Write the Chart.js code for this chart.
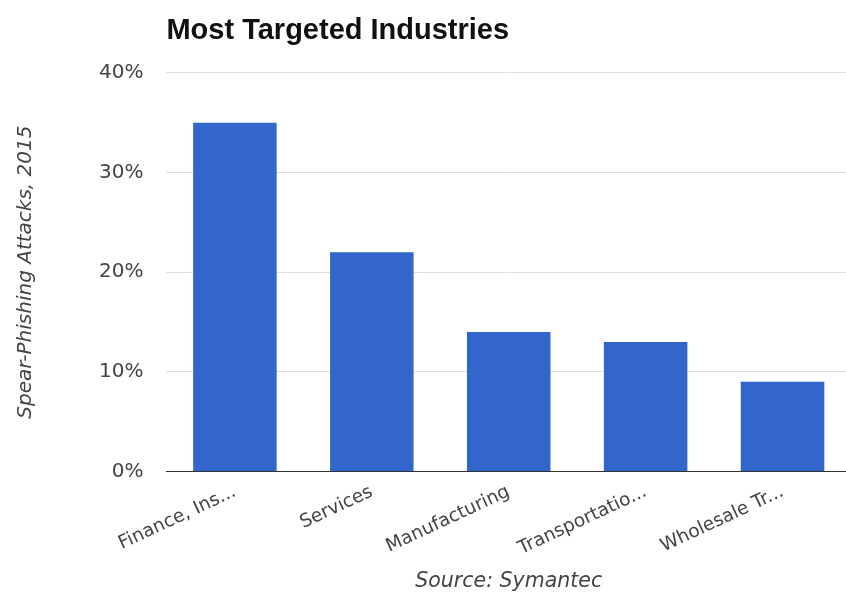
<!DOCTYPE html>
<html>
<head>
<meta charset="utf-8">
<script src="https://cdn.jsdelivr.net/npm/chart.js@4"></script>
<style>
  html, body { margin: 0; padding: 0; background: #fff; overflow: hidden; }
  #wrap { position: relative; width: 851px; height: 594px; }
</style>
</head>
<body>
<div id="wrap"><canvas id="c"></canvas></div>
<script>
const categories = ["Finance, Ins...", "Services", "Manufacturing", "Transportatio...", "Wholesale Tr..."];
const values = [35, 22, 14, 13, 9];
const yTicks = [0, 10, 20, 30, 40];
const titleText = "Most Targeted Industries";
const yTitle = "Spear-Phishing Attacks, 2015";
const xTitle = "Source: Symantec";

const TFONT = "'Liberation Sans', Arial, sans-serif";
const FONT = "'DejaVu Sans', sans-serif";

new Chart(document.getElementById('c'), {
  type: 'bar',
  data: {
    labels: categories,
    datasets: [{
      data: values,
      backgroundColor: '#3366CC',
      borderWidth: 0,
      barPercentage: 0.61,
      categoryPercentage: 1.0
    }]
  },
  options: {
    responsive: true,
    maintainAspectRatio: false,
    animation: false,
    layout: { padding: { left: 14, right: 0, top: 4, bottom: 0 } },
    plugins: {
      legend: { display: false },
      tooltip: { enabled: false },
      title: {
        display: true,
        text: titleText,
        align: 'start',
        fullSize: false,
        color: '#111',
        font: { family: TFONT, size: 29, weight: 'bold' },
        padding: { top: 10, bottom: 24 }
      }
    },
    scales: {
      x: {
        grid: { display: false, drawTicks: false },
        border: { display: true, color: '#333', width: 1 },
        ticks: {
          color: '#444',
          font: { family: FONT, size: 18.5 },
          maxRotation: 25,
          minRotation: 25,
          autoSkip: false,
          padding: 9.5
        },
        title: {
          display: true,
          text: xTitle,
          color: '#444',
          font: { family: FONT, size: 20.5, style: 'italic' },
          padding: { top: 0, bottom: 0 }
        }
      },
      y: {
        min: 0,
        max: 40,
        afterBuildTicks: (axis) => { axis.ticks = yTicks.map(v => ({ value: v })); },
        grid: { color: '#e0e0e0', lineWidth: 1, drawTicks: false },
        border: { display: false },
        ticks: {
          color: '#444',
          font: { family: FONT, size: 20 },
          padding: 23,
          callback: (v) => v + '%'
        },
        title: {
          display: true,
          text: yTitle,
          color: '#444',
          font: { family: FONT, size: 20, style: 'italic' },
          padding: { top: 0, bottom: 38 }
        }
      }
    }
  }
});
</script>
</body>
</html>
